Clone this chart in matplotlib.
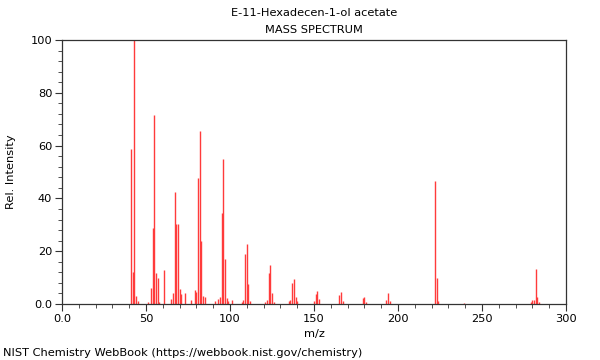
import matplotlib
matplotlib.use("Agg")
import matplotlib.pyplot as plt
from matplotlib.ticker import MultipleLocator, FuncFormatter

mz = [41, 42, 43, 44, 45, 51, 53, 54, 55, 56, 57, 58, 61, 65, 66, 67, 68, 69, 70, 71, 73,
      77, 79, 80, 81, 82, 83, 84, 85, 91, 93, 94, 95, 96, 97, 98, 99, 101,
      107, 108, 109, 110, 111, 112, 121, 122, 123, 124, 125, 126,
      135, 136, 137, 138, 139, 140, 150, 151, 152, 153,
      165, 166, 167, 179, 180, 181, 193, 194, 195,
      222, 223, 224, 239, 279, 280, 281, 282, 283, 284]
intensity = [58.7, 12.2, 100.0, 3.0, 1.0, 0.8, 6.2, 28.8, 71.6, 11.7, 9.8, 0.6, 12.9, 1.9, 4.0, 42.3, 30.3, 30.4, 5.7, 3.6, 4.1,
             1.5, 5.3, 4.5, 47.9, 65.5, 23.9, 3.2, 2.8, 1.3, 1.8, 2.8, 34.3, 54.8, 17.0, 2.3, 1.0, 1.5,
             0.9, 1.5, 18.8, 22.7, 7.6, 1.1, 0.8, 1.6, 11.9, 14.6, 4.2, 0.8,
             1.0, 1.5, 7.8, 9.5, 2.8, 1.0, 1.0, 3.7, 5.0, 1.8,
             3.4, 4.5, 1.3, 2.4, 2.6, 0.6, 1.4, 4.3, 1.0,
             46.5, 9.7, 1.1, 0.5, 0.9, 1.5, 1.5, 13.3, 2.7, 0.6]

title_name = "E-11-Hexadecen-1-ol acetate"
title_kind = "MASS SPECTRUM"
x_label = "m/z"
y_label = "Rel. Intensity"
footer = "NIST Chemistry WebBook (https://webbook.nist.gov/chemistry)"

fs = 8.2
fig = plt.figure(figsize=(6, 3.6), dpi=100)
ax = fig.add_axes([62/600, 1-304/360, (566-62)/600, (304-40)/360])
ax.vlines(mz, 0, intensity, color="#ff3b3b", linewidth=1.0)
ax.set_xlim(0, 300)
ax.set_ylim(0, 100)
ax.xaxis.set_major_locator(MultipleLocator(50))
ax.xaxis.set_minor_locator(MultipleLocator(10))
ax.yaxis.set_major_locator(MultipleLocator(20))
ax.yaxis.set_minor_locator(MultipleLocator(4))
fmt = FuncFormatter(lambda v, p: "0.0" if v == 0 else f"{v:.0f}")
ax.xaxis.set_major_formatter(fmt)
ax.yaxis.set_major_formatter(fmt)
ax.tick_params(which="major", length=5, width=0.8, labelsize=fs, colors="#333333", labelcolor="black", pad=2)
ax.tick_params(which="minor", length=3, width=0.6, colors="#333333")
for s in ax.spines.values():
    s.set_color("#333333")
    s.set_linewidth(0.9)

fig.text((62+566)/2/600, 1-13/360, title_name, ha="center", va="center", fontsize=fs)
fig.text((62+566)/2/600, 1-30/360, title_kind, ha="center", va="center", fontsize=fs)
fig.text((62+566)/2/600, 1-334/360, x_label, ha="center", va="center", fontsize=fs)
fig.text(11/600, 1-172/360, y_label, ha="center", va="center", rotation=90, fontsize=fs)
fig.text(3/600, 1-353/360, footer, ha="left", va="center", fontsize=fs)

fig.savefig("out.png", dpi=100)
